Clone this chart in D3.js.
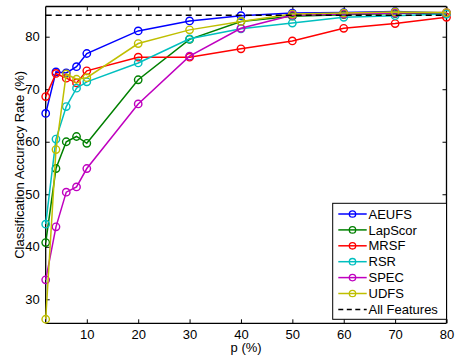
<!DOCTYPE html>
<html>
<head>
<meta charset="utf-8">
<script src="https://cdn.jsdelivr.net/npm/d3@7"></script>
<style>
  html, body { margin: 0; padding: 0; background: #fff; }
  svg { display: block; font-family: "Liberation Sans", Arial, Helvetica, sans-serif; }
</style>
</head>
<body>
<svg id="chart" width="455" height="360"></svg>
<script>
// Percentage of selected features
const pValues = [2, 4, 6, 8, 10, 20, 30, 40, 50, 60, 70, 80];
const xTicks = [10, 20, 30, 40, 50, 60, 70, 80];
const yTicks = [30, 40, 50, 60, 70, 80];

// Classification accuracy (%) per method
const methodNames = ["AEUFS", "LapScor", "MRSF", "RSR", "SPEC", "UDFS"];
const methodColors = ["#0000ff", "#008000", "#ff0000", "#00bfbf", "#bf00bf", "#bfbf00"];
const aeufs   = [65.4, 73.3, 73.1, 74.3, 76.8, 81.1, 83.0, 84.0, 84.5, 84.6, 84.8, 84.5];
const lapscor = [40.8, 54.9, 60.0, 61.0, 59.7, 71.8, 79.5, 82.9, 83.9, 84.2, 84.4, 84.5];
const mrsf    = [68.6, 73.0, 72.1, 71.2, 73.5, 76.1, 76.1, 77.7, 79.2, 81.6, 82.5, 83.7];
const rsr     = [44.3, 60.5, 66.7, 70.2, 71.4, 75.0, 79.6, 81.5, 82.6, 83.7, 84.0, 84.3];
const spec    = [33.7, 43.8, 50.4, 51.4, 54.9, 67.2, 76.3, 81.6, 84.1, 84.3, 84.5, 84.6];
const udfs    = [26.2, 58.5, 72.9, 71.9, 72.2, 78.7, 81.3, 82.9, 84.3, 84.5, 84.7, 84.6];
const allFeatures = 84.1;
const allFeaturesLabel = "All Features";

const seriesValues = [aeufs, lapscor, mrsf, rsr, spec, udfs];

const svg = d3.select("#chart");
const plotLeft = 45.7, plotRight = 446.5, plotTop = 6.5, plotBottom = 323.3;

const x = d3.scaleLinear().domain([2, 80]).range([plotLeft, plotRight]);
const y = d3.scaleLinear().domain([25.43, 85.75]).range([plotBottom, plotTop]);

// axes with inward ticks, boxed
const tickLen = 4;
const gx = svg.append("g").attr("transform", `translate(0,${plotBottom})`)
  .call(d3.axisBottom(x).tickValues(xTicks).tickSize(-tickLen).tickPadding(6).tickFormat(d3.format("d")));
const gxTop = svg.append("g").attr("transform", `translate(0,${plotTop})`)
  .call(d3.axisTop(x).tickValues(xTicks).tickSize(-tickLen).tickFormat(""));
const gy = svg.append("g").attr("transform", `translate(${plotLeft},0)`)
  .call(d3.axisLeft(y).tickValues(yTicks).tickSize(-tickLen).tickPadding(6).tickFormat(d3.format("d")));
const gyRight = svg.append("g").attr("transform", `translate(${plotRight},0)`)
  .call(d3.axisRight(y).tickValues(yTicks).tickSize(-tickLen).tickFormat(""));

[gx, gxTop, gy, gyRight].forEach(g => {
  g.select(".domain").attr("stroke", "#000").attr("stroke-width", 1.3);
  g.selectAll(".tick line").attr("stroke", "#000").attr("stroke-width", 1);
  g.selectAll(".tick text").attr("fill", "#000").style("font-size", "13px")
    .style("font-family", "'Liberation Sans', Arial, sans-serif");
});
gx.select(".domain").attr("d", `M${plotLeft},0H${plotRight}`);
gxTop.select(".domain").attr("d", `M${plotLeft},0H${plotRight}`);
gy.select(".domain").attr("d", `M0,${plotBottom}V${plotTop}`);
gyRight.select(".domain").attr("d", `M0,${plotBottom}V${plotTop}`);

// axis titles
svg.append("text").attr("x", (plotLeft + plotRight) / 2).attr("y", 352)
  .attr("text-anchor", "middle").style("font-size", "13px").text("p (%)");
svg.append("text")
  .attr("transform", `translate(19,${(plotTop + plotBottom) / 2}) rotate(-90)`)
  .attr("text-anchor", "middle").attr("dy", "0.35em")
  .style("font-size", "13px").text("Classification Accuracy Rate (%)");

const plot = svg.append("g");
const line = d3.line().x((d, i) => x(pValues[i])).y(d => y(d));

seriesValues.forEach((vals, k) => {
  const g = plot.append("g");
  g.append("path").datum(vals).attr("d", line)
    .attr("fill", "none").attr("stroke", methodColors[k]).attr("stroke-width", 1.5);
  g.selectAll("circle").data(vals).join("circle")
    .attr("cx", (d, i) => x(pValues[i])).attr("cy", d => y(d)).attr("r", 3.7)
    .attr("fill", "none").attr("stroke", methodColors[k]).attr("stroke-width", 1.4);
});

// baseline using all features
plot.append("line")
  .attr("x1", plotLeft).attr("x2", plotRight).attr("y1", y(allFeatures)).attr("y2", y(allFeatures))
  .attr("stroke", "#000").attr("stroke-width", 1.5).attr("stroke-dasharray", "6,4");

// legend
const lg = svg.append("g");
const lgX0 = 332.7, lgX1 = 446.5, lgY0 = 203.3, lgY1 = 319.3;
lg.append("rect").attr("x", lgX0).attr("y", lgY0).attr("width", lgX1 - lgX0).attr("height", lgY1 - lgY0)
  .attr("fill", "#fff").attr("stroke", "#000").attr("stroke-width", 1);
const rowY = i => 214 + i * 15.9;
methodNames.forEach((name, i) => {
  lg.append("line").attr("x1", 338.3).attr("x2", 366.7).attr("y1", rowY(i)).attr("y2", rowY(i))
    .attr("stroke", methodColors[i]).attr("stroke-width", 1.5);
  lg.append("circle").attr("cx", 352.5).attr("cy", rowY(i)).attr("r", 3.2)
    .attr("fill", "none").attr("stroke", methodColors[i]).attr("stroke-width", 1.3);
  lg.append("text").attr("x", 368.5).attr("y", rowY(i)).attr("dy", "0.36em")
    .style("font-size", "13px").text(name);
});
const iAll = methodNames.length;
lg.append("line").attr("x1", 338.3).attr("x2", 366.7).attr("y1", rowY(iAll)).attr("y2", rowY(iAll))
  .attr("stroke", "#000").attr("stroke-width", 1.5).attr("stroke-dasharray", "5,3.5");
lg.append("text").attr("x", 368.5).attr("y", rowY(iAll)).attr("dy", "0.36em")
  .style("font-size", "13px").text(allFeaturesLabel);
</script>
</body>
</html>
